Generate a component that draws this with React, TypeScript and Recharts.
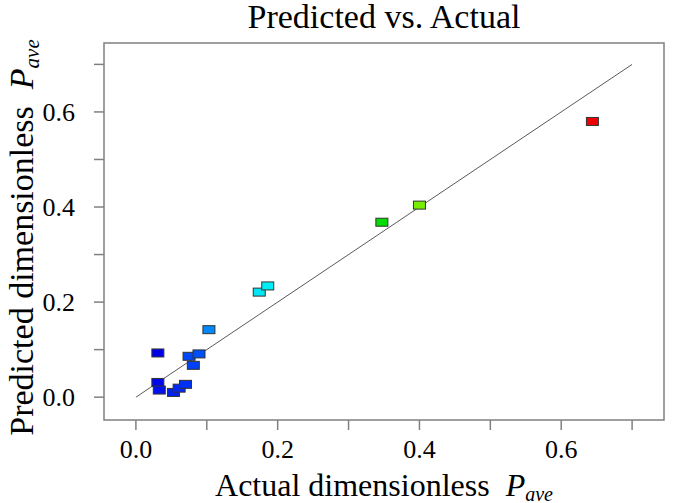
import React from 'react';
import {
  ScatterChart, Scatter, XAxis, YAxis, ReferenceLine, ReferenceArea, Label
} from 'recharts';

const actualValues = [0.031, 0.031, 0.033, 0.053, 0.061, 0.070, 0.081, 0.075, 0.089, 0.103, 0.174, 0.186, 0.347, 0.400, 0.644];
const predictedValues = [0.093, 0.031, 0.015, 0.010, 0.019, 0.027, 0.067, 0.086, 0.091, 0.142, 0.221, 0.234, 0.368, 0.404, 0.580];
const pointColors = [
  '#0000e8', '#0008ea', '#0010ee', '#0020f0', '#0028f2', '#0030f4', '#0040f8', '#0048fa', '#0050fa',
  '#0088ff', '#00e6f6', '#00eef8', '#00dd00', '#77ee00', '#ee0000'
];
const axisTicks = [0, 0.1, 0.2, 0.3, 0.4, 0.5, 0.6, 0.7];
const fitLine = [{ x: 0, y: 0 }, { x: 0.7, y: 0.7 }];

const xDomain: [number, number] = [-0.045, 0.745];
const yDomain: [number, number] = [-0.048, 0.745];

const FONT = '"Liberation Serif", "Times New Roman", serif';
const GRAY = '#808080';

const data = actualValues.map((x, i) => ({ x, y: predictedValues[i], color: pointColors[i] }));

const fmt = (v: number) => (Math.round(v * 10) % 2 === 0 ? v.toFixed(1) : '');

const Marker = (props: any) => {
  const { cx, cy, payload } = props;
  if (cx == null || cy == null) return null;
  return <rect x={cx - 6} y={cy - 4} width={12} height={8} fill={payload.color} stroke="#333" strokeWidth={1} />;
};

export default function App() {
  return (
    <div style={{ position: 'absolute', left: 0, top: 0, background: '#fff' }}>
      <ScatterChart width={685} height={503} margin={{ top: 43, right: 21, bottom: 0, left: 0 }}>
        <XAxis
          type="number"
          dataKey="x"
          domain={xDomain}
          ticks={axisTicks}
          interval={0}
          tickFormatter={fmt}
          allowDataOverflow
          height={83}
          axisLine={false}
          tickSize={10}
          tickMargin={10}
          tickLine={{ stroke: GRAY, strokeWidth: 1.5 }}
          tick={{ fill: '#000', fontSize: 26, fontFamily: FONT }}
        >
          <Label
            content={({ viewBox }: any) => (
              <text x={viewBox.x + viewBox.width / 2} y={viewBox.y + 76} textAnchor="middle" fontFamily={FONT} fontSize={32} fill="#000">
                Actual dimensionless{'\u00a0\u00a0'}
                <tspan fontStyle="italic">P</tspan>
                <tspan fontStyle="italic" fontSize={20} dy={5}>ave</tspan>
              </text>
            )}
          />
        </XAxis>
        <YAxis
          type="number"
          dataKey="y"
          domain={yDomain}
          ticks={axisTicks}
          interval={0}
          tickFormatter={fmt}
          allowDataOverflow
          width={104}
          axisLine={false}
          tickSize={10}
          tickMargin={19}
          tickLine={{ stroke: GRAY, strokeWidth: 1.5 }}
          tick={{ fill: '#000', fontSize: 26, fontFamily: FONT }}
        >
          <Label
            content={({ viewBox }: any) => {
              const cx = 33;
              const cy = viewBox.y + viewBox.height / 2 + 6;
              return (
                <text x={cx} y={cy} transform={`rotate(-90 ${cx} ${cy})`} textAnchor="middle" fontFamily={FONT} fontSize={34} fill="#000">
                  Predicted dimensionless{'\u00a0\u00a0'}
                  <tspan fontStyle="italic">P</tspan>
                  <tspan fontStyle="italic" fontSize={21} dy={6}>ave</tspan>
                </text>
              );
            }}
          />
        </YAxis>
        <ReferenceArea
          x1={xDomain[0]} x2={xDomain[1]} y1={yDomain[0]} y2={yDomain[1]}
          fill="none" fillOpacity={0} stroke={GRAY} strokeWidth={1.5} ifOverflow="visible"
        >
          <Label
            content={({ viewBox }: any) => (
              <text x={viewBox.x + viewBox.width / 2} y={28} textAnchor="middle" fontFamily={FONT} fontSize={34} fill="#000">
                Predicted vs. Actual
              </text>
            )}
          />
        </ReferenceArea>
        <ReferenceLine segment={fitLine} stroke="#5a5a5a" strokeWidth={1} ifOverflow="visible" />
        <Scatter data={data} shape={Marker} isAnimationActive={false} />
      </ScatterChart>
    </div>
  );
}
